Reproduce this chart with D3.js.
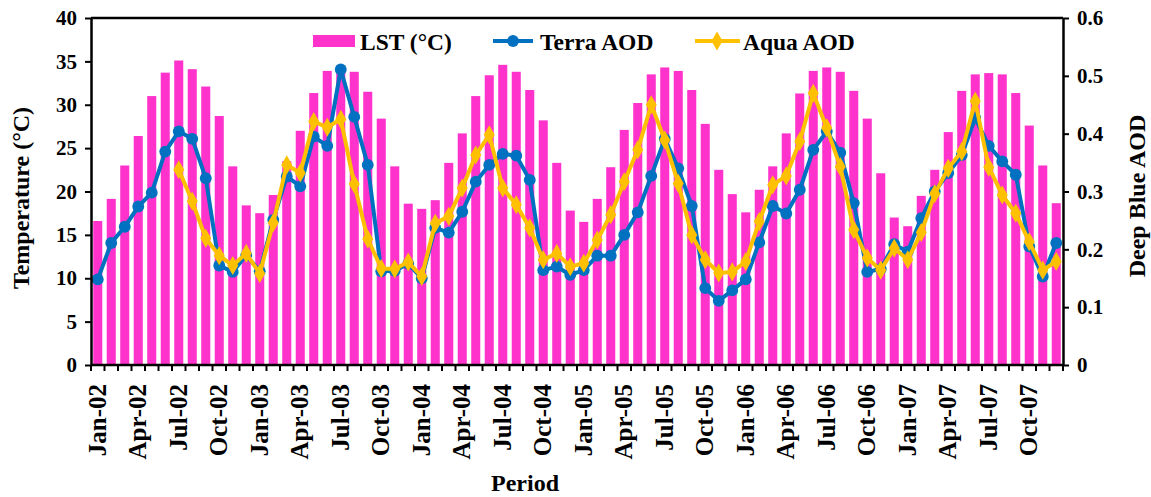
<!DOCTYPE html>
<html>
<head>
<meta charset="utf-8">
<script src="https://cdn.jsdelivr.net/npm/d3@7/dist/d3.min.js"></script>
<style>
  html, body { margin: 0; padding: 0; background: #fff; }
  svg { display: block; }
  text { font-family: "Liberation Serif", "Times New Roman", serif; font-weight: bold; fill: #000; }
</style>
</head>
<body>
<svg id="chart" width="1151" height="497"></svg>
<script>
// Monthly periods, Jan-2002 .. Dec-2007
const years = ["02", "03", "04", "05", "06", "07"];
const monthNames = ["Jan", "Feb", "Mar", "Apr", "May", "Jun", "Jul", "Aug", "Sep", "Oct", "Nov", "Dec"];
const periods = years.flatMap(y => monthNames.map(m => m + "-" + y));

// Land surface temperature (°C)
const lst = [
  16.6, 19.15, 23.0, 26.4, 31.0, 33.7, 35.1, 34.1, 32.1, 28.7, 22.9, 18.4,
  17.5, 19.6, 23.5, 27.0, 31.35, 33.9, 34.2, 33.8, 31.5, 28.4, 22.9, 18.6,
  18.0, 19.0, 23.3, 26.7, 31.0, 33.4, 34.6, 33.8, 31.7, 28.2, 23.3, 17.8,
  16.5, 19.15, 22.8, 27.1, 30.2, 33.5, 34.3, 33.9, 31.7, 27.8, 22.5, 19.7,
  17.6, 20.2, 22.9, 26.7, 31.3, 33.9, 34.3, 33.8, 31.6, 28.4, 22.1, 17.0,
  16.0, 19.5, 22.5, 26.85, 31.6, 33.5, 33.65, 33.5, 31.35, 27.6, 23.0, 18.65
];

// Terra MODIS Deep Blue AOD
const terraAod = [
  0.148, 0.211, 0.239, 0.274, 0.298, 0.369, 0.404, 0.391, 0.323, 0.172, 0.161, 0.190,
  0.162, 0.251, 0.326, 0.309, 0.395, 0.379, 0.511, 0.429, 0.346, 0.162, 0.163, 0.175,
  0.150, 0.237, 0.229, 0.265, 0.317, 0.346, 0.365, 0.362, 0.320, 0.164, 0.170, 0.156,
  0.164, 0.189, 0.189, 0.225, 0.264, 0.327, 0.391, 0.340, 0.275, 0.133, 0.111, 0.129,
  0.148, 0.212, 0.275, 0.262, 0.303, 0.372, 0.404, 0.367, 0.280, 0.161, 0.166, 0.209,
  0.196, 0.254, 0.300, 0.332, 0.363, 0.427, 0.379, 0.352, 0.329, 0.205, 0.153, 0.211
];

// Aqua MODIS Deep Blue AOD (record begins Jul-2002)
const aquaAod = [
  null, null, null, null, null, null, 0.3375, 0.283, 0.219, 0.189, 0.172, 0.193,
  0.158, 0.246, 0.346, 0.332, 0.421, 0.411, 0.425, 0.313, 0.218, 0.167, 0.166, 0.178,
  0.153, 0.245, 0.257, 0.306, 0.363, 0.398, 0.306, 0.277, 0.237, 0.182, 0.193, 0.170,
  0.176, 0.216, 0.260, 0.317, 0.372, 0.450, 0.389, 0.314, 0.225, 0.182, 0.159, 0.161,
  0.179, 0.248, 0.3115, 0.327, 0.3865, 0.470, 0.410, 0.343, 0.234, 0.185, 0.164, 0.202,
  0.182, 0.229, 0.296, 0.340, 0.369, 0.456, 0.342, 0.294, 0.2625, 0.213, 0.164, 0.179
];

const tempTicks = [0, 5, 10, 15, 20, 25, 30, 35, 40];
const aodTicks = [0, 0.1, 0.2, 0.3, 0.4, 0.5, 0.6];

const colors = { lst: "#FF33CC", terra: "#0070C0", aqua: "#FFC000" };

const svg = d3.select("#chart");
const m = { left: 91, right: 1063, top: 18, bottom: 365 };

const x = d3.scaleBand().domain(periods).range([m.left, m.right]).paddingInner(0.33).paddingOuter(0.165);
const xb = d3.scaleBand().domain(periods).range([m.left, m.right]).padding(0);
const yT = d3.scaleLinear().domain([0, 40]).range([m.bottom, m.top]);
const yA = d3.scaleLinear().domain([0, 0.6]).range([m.bottom, m.top]);
const cx = p => xb(p) + xb.bandwidth() / 2;

// LST bars
svg.append("g").selectAll("rect").data(periods).join("rect")
  .attr("x", d => x(d))
  .attr("width", x.bandwidth())
  .attr("y", (d, i) => yT(lst[i]))
  .attr("height", (d, i) => yT(0) - yT(lst[i]))
  .attr("fill", colors.lst);

// AOD lines and markers
const circleSize = 110, diamondSize = 105, lineWidth = 4;
function series(values, color, shape, size) {
  const pts = periods.map((p, i) => ({ p, v: values[i] })).filter(d => d.v != null);
  const line = d3.line().x(d => cx(d.p)).y(d => yA(d.v));
  const g = svg.append("g");
  g.append("path").datum(pts).attr("d", line)
    .attr("fill", "none").attr("stroke", color).attr("stroke-width", lineWidth)
    .attr("stroke-linejoin", "round");
  g.selectAll("path.mk").data(pts).join("path").attr("class", "mk")
    .attr("transform", d => `translate(${cx(d.p)},${yA(d.v)})`)
    .attr("d", d3.symbol().type(shape).size(size))
    .attr("fill", color);
}
series(terraAod, colors.terra, d3.symbolCircle, circleSize);
series(aquaAod, colors.aqua, d3.symbolDiamond, diamondSize);

// Axes
const axisStroke = g => {
  g.select(".domain").attr("stroke", "#000").attr("stroke-width", 2.5);
  g.selectAll(".tick line").attr("stroke", "#000").attr("stroke-width", 2);
};

const leftAxis = svg.append("g").attr("transform", `translate(${m.left},0)`)
  .call(d3.axisLeft(yT).tickValues(tempTicks).tickSize(6).tickSizeOuter(0).tickPadding(8))
  .call(axisStroke);
leftAxis.selectAll("text").style("font-size", "21px").attr("font-family", null);

const rightAxis = svg.append("g").attr("transform", `translate(${m.right},0)`)
  .call(d3.axisRight(yA).tickValues(aodTicks).tickSize(6).tickSizeOuter(0).tickPadding(8)
    .tickFormat(d => d === 0 ? "0" : d3.format(".1f")(d)))
  .call(axisStroke);
rightAxis.selectAll("text").style("font-size", "21px").attr("font-family", null);

// Bottom axis: ticks on month boundaries, labels every quarter
const bottom = svg.append("g").attr("transform", `translate(0,${m.bottom})`);
bottom.append("line").attr("x1", m.left).attr("x2", m.right).attr("stroke", "#000").attr("stroke-width", 2.5);
const bounds = d3.range(periods.length + 1).map(i => m.left + i * xb.bandwidth());
bottom.selectAll("line.tk").data(bounds).join("line").attr("class", "tk")
  .attr("x1", d => d).attr("x2", d => d).attr("y1", 0).attr("y2", 6)
  .attr("stroke", "#000").attr("stroke-width", 2);
bottom.selectAll("text").data(periods.filter((p, i) => i % 3 === 0)).join("text")
  .attr("transform", d => `translate(${cx(d) + 8},${19}) rotate(-90)`)
  .attr("text-anchor", "end")
  .style("font-size", "25px")
  .text(d => d);

// Top frame
svg.append("line").attr("x1", m.left).attr("x2", m.right).attr("y1", m.top).attr("y2", m.top)
  .attr("stroke", "#000").attr("stroke-width", 2.5);

// Axis titles
svg.append("text").attr("transform", `translate(29,198) rotate(-90)`)
  .attr("text-anchor", "middle").style("font-size", "24px").text("Temperature (°C)");
svg.append("text").attr("transform", `translate(1145,196) rotate(-90)`)
  .attr("text-anchor", "middle").style("font-size", "24px").text("Deep Blue AOD");
svg.append("text").attr("x", 525).attr("y", 491).attr("text-anchor", "middle")
  .style("font-size", "24px").text("Period");

// Legend
const legend = svg.append("g");
legend.append("rect").attr("x", 313).attr("y", 35).attr("width", 42).attr("height", 12).attr("fill", colors.lst);
legend.append("text").attr("x", 360).attr("y", 50).style("font-size", "23.5px").text("LST (°C)");
legend.append("line").attr("x1", 493).attr("x2", 533).attr("y1", 41).attr("y2", 41)
  .attr("stroke", colors.terra).attr("stroke-width", lineWidth);
legend.append("path").attr("transform", "translate(513,41)").attr("d", d3.symbol().type(d3.symbolCircle).size(circleSize)).attr("fill", colors.terra);
legend.append("text").attr("x", 540).attr("y", 50).style("font-size", "23.5px").text("Terra AOD");
legend.append("line").attr("x1", 695).attr("x2", 740).attr("y1", 41).attr("y2", 41)
  .attr("stroke", colors.aqua).attr("stroke-width", lineWidth);
legend.append("path").attr("transform", "translate(717,41)").attr("d", d3.symbol().type(d3.symbolDiamond).size(diamondSize)).attr("fill", colors.aqua);
legend.append("text").attr("x", 743).attr("y", 50).style("font-size", "23.5px").text("Aqua AOD");
</script>
</body>
</html>
